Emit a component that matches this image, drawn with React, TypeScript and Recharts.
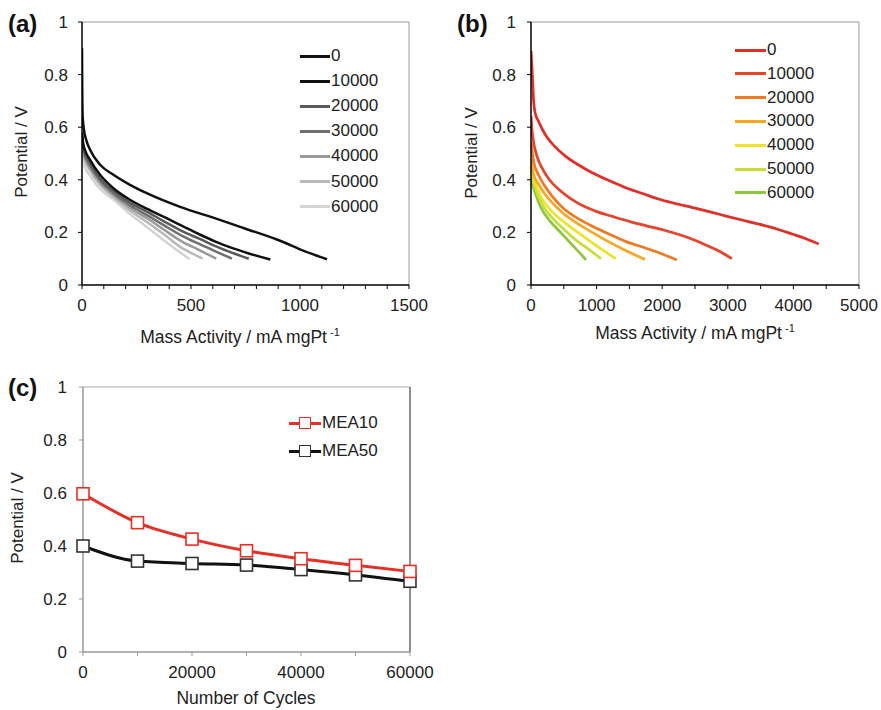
import React from 'react';
import { LineChart, Line, XAxis, YAxis, ReferenceLine } from 'recharts';

type P = [number, number];

const FONT = '"Liberation Sans", Arial, Helvetica, sans-serif';

const cycleLabels = ['0', '10000', '20000', '30000', '40000', '50000', '60000'];

// Panel (a): grey-scale polarisation curves (mass activity, potential)
const a0: P[] = [[0, 0.9], [1, 0.75], [3, 0.64], [9, 0.59], [20, 0.55], [37, 0.514], [83, 0.457], [144, 0.419], [220, 0.381], [297, 0.349], [450, 0.297], [602, 0.256], [747, 0.215], [900, 0.171], [1023, 0.128], [1124, 0.098]];
const a1: P[] = [[0, 0.58], [5, 0.54], [15, 0.51], [37, 0.476], [83, 0.419], [144, 0.368], [220, 0.324], [297, 0.29], [388, 0.254], [459, 0.225], [540, 0.192], [612, 0.165], [690, 0.14], [765, 0.12], [864, 0.097]];
const a2: P[] = [[0, 0.575], [5, 0.53], [15, 0.5], [37, 0.465], [83, 0.405], [144, 0.358], [220, 0.313], [306, 0.275], [380, 0.24], [459, 0.205], [540, 0.175], [612, 0.148], [690, 0.122], [765, 0.1]];
const a3: P[] = [[0, 0.565], [5, 0.52], [15, 0.49], [37, 0.455], [83, 0.398], [144, 0.35], [220, 0.303], [306, 0.262], [380, 0.225], [459, 0.187], [540, 0.155], [612, 0.128], [688, 0.1]];
const a4: P[] = [[0, 0.555], [5, 0.51], [15, 0.48], [37, 0.445], [83, 0.39], [144, 0.343], [220, 0.294], [306, 0.25], [380, 0.208], [459, 0.165], [540, 0.132], [616, 0.1]];
const a5: P[] = [[0, 0.54], [5, 0.5], [15, 0.47], [37, 0.435], [83, 0.38], [144, 0.335], [220, 0.283], [306, 0.235], [380, 0.19], [459, 0.14], [510, 0.118], [553, 0.1]];
const a6: P[] = [[0, 0.5], [5, 0.47], [15, 0.445], [37, 0.415], [83, 0.365], [144, 0.325], [220, 0.27], [306, 0.215], [382, 0.165], [440, 0.13], [494, 0.098]];
const aSeries = [a0, a1, a2, a3, a4, a5, a6];
const aColors = ['#111111', '#111111', '#5a5a5a', '#6f6f6f', '#9a9a9a', '#b9b9b9', '#d4d4d4'];
const aXTicks = [0, 100, 200, 300, 400, 500, 600, 700, 800, 900, 1000, 1100, 1200, 1300, 1400, 1500];

// Panel (b): coloured polarisation curves
const b0: P[] = [[0, 0.89], [20, 0.8], [40, 0.7], [61, 0.656], [120, 0.62], [214, 0.573], [350, 0.53], [519, 0.491], [700, 0.46], [926, 0.428], [1180, 0.398], [1434, 0.371], [1700, 0.348], [1943, 0.327], [2200, 0.31], [2452, 0.295], [2700, 0.28], [2960, 0.263], [3200, 0.248], [3469, 0.232], [3750, 0.213], [3978, 0.194], [4200, 0.175], [4385, 0.156]];
const b1: P[] = [[0, 0.643], [15, 0.59], [36, 0.548], [90, 0.49], [163, 0.447], [280, 0.4], [417, 0.365], [540, 0.34], [671, 0.318], [800, 0.3], [1002, 0.279], [1250, 0.26], [1510, 0.241], [1760, 0.225], [2019, 0.209], [2280, 0.19], [2528, 0.167], [2700, 0.148], [2833, 0.133], [2950, 0.117], [3062, 0.1]];
const b2: P[] = [[0, 0.542], [40, 0.47], [112, 0.42], [200, 0.38], [315, 0.34], [480, 0.295], [700, 0.255], [900, 0.228], [1180, 0.195], [1450, 0.165], [1765, 0.139], [2000, 0.118], [2223, 0.095]];
const b3: P[] = [[0, 0.478], [40, 0.42], [112, 0.384], [200, 0.35], [315, 0.315], [480, 0.275], [700, 0.235], [900, 0.205], [1180, 0.165], [1450, 0.13], [1740, 0.097]];
const b4: P[] = [[0, 0.45], [50, 0.4], [150, 0.335], [300, 0.285], [500, 0.24], [800, 0.185], [1050, 0.14], [1292, 0.1]];
const b5: P[] = [[0, 0.42], [50, 0.38], [150, 0.315], [300, 0.262], [500, 0.212], [700, 0.168], [900, 0.132], [1068, 0.1]];
const b6: P[] = [[0, 0.4], [50, 0.36], [150, 0.295], [300, 0.24], [450, 0.2], [600, 0.16], [750, 0.12], [839, 0.095]];
const bSeries = [b0, b1, b2, b3, b4, b5, b6];
const bColors = ['#e42d27', '#e8442b', '#ee7b23', '#f6a822', '#ede32b', '#c6dd3b', '#8dc641'];
const bXTicks = [0, 500, 1000, 1500, 2000, 2500, 3000, 3500, 4000, 4500, 5000];

// Panel (c)
const cCycles = [0, 10000, 20000, 30000, 40000, 50000, 60000];
const mea10 = [0.597, 0.488, 0.426, 0.382, 0.352, 0.327, 0.304];
const mea50 = [0.4, 0.343, 0.334, 0.328, 0.311, 0.291, 0.267];
const cNames = ['MEA10', 'MEA50'];
const cColors = ['#e53027', '#111111'];
const cMarkerStroke = ['#e53027', '#333333'];

const yTicks = [0, 0.2, 0.4, 0.6, 0.8, 1];

const toPts = (arr: P[]) => arr.map(([x, y]) => ({ x, y }));
const cData = cCycles.map((c, i) => ({ x: c, mea10: mea10[i], mea50: mea50[i] }));

const tickStyle = { fill: '#222', fontSize: 17, fontFamily: FONT };

const Abs: React.FC<{ l: number; t: number; children?: React.ReactNode; style?: React.CSSProperties }> = ({ l, t, children, style }) => (
  <div style={{ position: 'absolute', left: l, top: t, ...style }}>{children}</div>
);

const LineLegend: React.FC<{ x0: number; x1: number; tx: number; y0: number; dy: number; colors: string[]; labels: string[] }> = ({ x0, x1, tx, y0, dy, colors, labels }) => (
  <>
    {labels.map((lab, i) => (
      <React.Fragment key={lab}>
        <Abs l={x0} t={y0 + i * dy - 1.5} style={{ width: x1 - x0, height: 3, background: colors[i] }} />
        <Abs l={tx} t={y0 + i * dy - 10} style={{ fontSize: 17, lineHeight: '20px', color: '#222', fontFamily: FONT }}>{lab}</Abs>
      </React.Fragment>
    ))}
  </>
);

const SquareDot = (stroke: string) => (props: any) => {
  const { cx, cy, index } = props;
  return <rect key={`sq-${stroke}-${index}`} x={cx - 6} y={cy - 6} width={12} height={12} fill="#fff" stroke={stroke} strokeWidth={1.6} />;
};

const XTitle: React.FC<{ cx: number; cy: number }> = ({ cx, cy }) => (
  <Abs l={cx} t={cy} style={{ transform: 'translate(-50%, -50%)', whiteSpace: 'nowrap', fontSize: 17.5, color: '#222', fontFamily: FONT }}>
    Mass Activity / mA mgPt<span style={{ fontSize: 11, verticalAlign: '7px', marginLeft: 3 }}>-1</span>
  </Abs>
);

const YTitle: React.FC<{ cx: number; cy: number }> = ({ cx, cy }) => (
  <Abs l={cx} t={cy} style={{ transform: 'translate(-50%, -50%) rotate(-90deg)', whiteSpace: 'nowrap', fontSize: 17, color: '#222', fontFamily: FONT }}>
    Potential / V
  </Abs>
);

const PanelTag: React.FC<{ l: number; t: number; text: string }> = ({ l, t, text }) => (
  <Abs l={l} t={t} style={{ fontSize: 24, fontWeight: 'bold', fontFamily: FONT, color: '#111', lineHeight: '28px' }}>{text}</Abs>
);

export default function App() {
  return (
    <div style={{ position: 'absolute', left: 0, top: 0, width: 881, height: 710, background: '#fff', overflow: 'hidden', fontFamily: FONT }}>
      {/* Panel (a) */}
      <Abs l={0} t={0}>
        <LineChart width={440} height={350} margin={{ top: 22, right: 31, bottom: 15, left: 0 }}>
          <XAxis type="number" dataKey="x" domain={[0, 1500]} ticks={aXTicks} interval={0} allowDataOverflow
            tickFormatter={(v: number) => (v % 500 === 0 ? String(v) : '')}
            height={50} tickSize={4} tickMargin={10} tick={tickStyle}
            axisLine={{ stroke: '#000', strokeWidth: 1.5 }} tickLine={{ stroke: '#000' }} />
          <YAxis type="number" domain={[0, 1]} ticks={yTicks} interval={0} width={82}
            tickSize={4} tickMargin={10} tick={tickStyle}
            axisLine={{ stroke: '#000', strokeWidth: 1.5 }} tickLine={{ stroke: '#000' }} />
          <ReferenceLine y={1} stroke="#999" strokeWidth={1} />
          <ReferenceLine x={1500} stroke="#999" strokeWidth={1} />
          {aSeries.map((s, i) => (
            <Line key={`a${i}`} data={toPts(s)} dataKey="y" type="monotone" stroke={aColors[i]} strokeWidth={2.5} dot={false} isAnimationActive={false} />
          )).reverse()}
        </LineChart>
      </Abs>

      {/* Panel (b) */}
      <Abs l={440} t={0}>
        <LineChart width={441} height={350} margin={{ top: 22, right: 22, bottom: 15, left: 0 }}>
          <XAxis type="number" dataKey="x" domain={[0, 5000]} ticks={bXTicks} interval={0} allowDataOverflow
            tickFormatter={(v: number) => (v % 1000 === 0 ? String(v) : '')}
            height={50} tickSize={4} tickMargin={10} tick={tickStyle}
            axisLine={{ stroke: '#000', strokeWidth: 1.5 }} tickLine={{ stroke: '#000' }} />
          <YAxis type="number" domain={[0, 1]} ticks={yTicks} interval={0} width={91}
            tickSize={4} tickMargin={11} tick={tickStyle}
            axisLine={{ stroke: '#000', strokeWidth: 1.5 }} tickLine={{ stroke: '#000' }} />
          <ReferenceLine y={1} stroke="#999" strokeWidth={1} />
          <ReferenceLine x={5000} stroke="#999" strokeWidth={1} />
          {bSeries.map((s, i) => (
            <Line key={`b${i}`} data={toPts(s)} dataKey="y" type="monotone" stroke={bColors[i]} strokeWidth={2.75} dot={false} isAnimationActive={false} />
          )).reverse()}
        </LineChart>
      </Abs>

      {/* Panel (c) */}
      <Abs l={0} t={350}>
        <LineChart width={440} height={360} data={cData} margin={{ top: 37, right: 30, bottom: 13, left: 0 }}>
          <XAxis type="number" dataKey="x" domain={[0, 60000]} ticks={cCycles} interval={0}
            tickFormatter={(v: number) => (v % 20000 === 0 ? String(v) : '')}
            height={45} tickSize={4} tickMargin={10} tick={tickStyle}
            axisLine={{ stroke: '#999', strokeWidth: 1.5 }} tickLine={{ stroke: '#999' }} />
          <YAxis type="number" domain={[0, 1]} ticks={yTicks} interval={0} width={83}
            tickSize={4} tickMargin={12} tick={tickStyle}
            axisLine={{ stroke: '#999', strokeWidth: 1.5 }} tickLine={{ stroke: '#999' }} />
          <ReferenceLine y={1} stroke="#aaa" strokeWidth={1} />
          <ReferenceLine x={60000} stroke="#444" strokeWidth={1.2} />
          <Line dataKey="mea50" type="monotone" stroke={cColors[1]} strokeWidth={3} dot={SquareDot(cMarkerStroke[1])} isAnimationActive={false} />
          <Line dataKey="mea10" type="monotone" stroke={cColors[0]} strokeWidth={3} dot={SquareDot(cMarkerStroke[0])} isAnimationActive={false} />
        </LineChart>
      </Abs>

      {/* Titles */}
      <PanelTag l={8} t={10} text="(a)" />
      <PanelTag l={457} t={10} text="(b)" />
      <PanelTag l={8} t={374} text="(c)" />

      <YTitle cx={22} cy={152} />
      <YTitle cx={472} cy={153} />
      <YTitle cx={18} cy={518} />

      <XTitle cx={240} cy={337} />
      <XTitle cx={695} cy={333} />
      <Abs l={246} t={698} style={{ transform: 'translate(-50%, -50%)', whiteSpace: 'nowrap', fontSize: 17.5, lineHeight: '20px', color: '#222', fontFamily: FONT }}>
        Number of Cycles
      </Abs>

      {/* Legends */}
      <LineLegend x0={300} x1={330} tx={331} y0={56} dy={25.1} colors={aColors} labels={cycleLabels} />
      <LineLegend x0={735} x1={766} tx={767} y0={50} dy={23.8} colors={bColors} labels={cycleLabels} />
      {cNames.map((n, i) => (
        <React.Fragment key={n}>
          <Abs l={289} t={423 + i * 28 - 1.5} style={{ width: 32, height: 3, background: cColors[i] }} />
          <Abs l={299} t={423 + i * 28 - 6} style={{ width: 12, height: 12, boxSizing: 'border-box', background: '#fff', border: `1.6px solid ${cMarkerStroke[i]}` }} />
          <Abs l={322} t={423 + i * 28 - 10} style={{ fontSize: 17, lineHeight: '20px', color: '#222', fontFamily: FONT }}>{n}</Abs>
        </React.Fragment>
      ))}
    </div>
  );
}
